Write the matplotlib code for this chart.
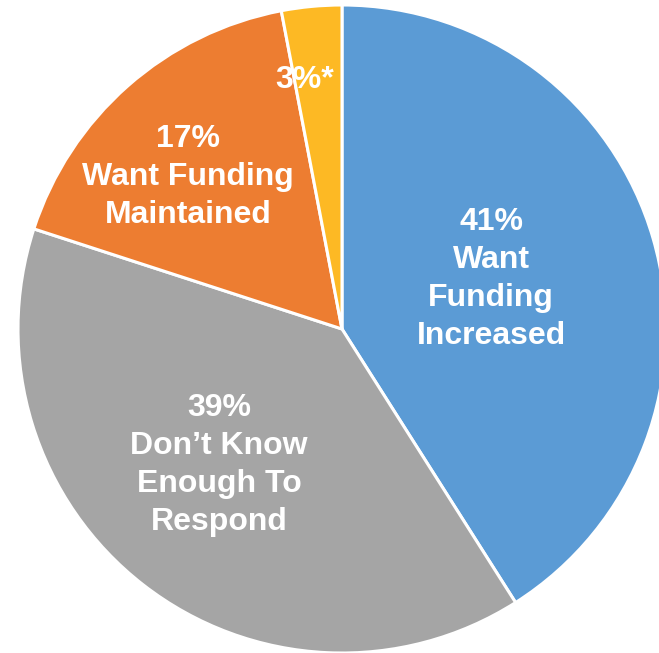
import matplotlib
matplotlib.use("Agg")
import matplotlib.pyplot as plt

labels = ["41%\nWant\nFunding\nIncreased",
          "39%\nDon\u2019t Know\nEnough To\nRespond",
          "17%\nWant Funding\nMaintained",
          "3%*"]
values = [41, 39, 17, 3]
colors = ["#5B9BD5", "#A5A5A5", "#ED7D31", "#FDB924"]

W, H = 659, 653
CX, CY, R = 342, 329, 324

fig = plt.figure(figsize=(W / 100, H / 100), dpi=100)
ax = fig.add_axes([0, 0, 1, 1])

ax.pie(values, colors=colors, startangle=90, counterclock=False, radius=1.0,
       wedgeprops=dict(edgecolor="white", linewidth=2.2))

ax.set_aspect("auto")
ax.set_xlim(-CX / R, (W - CX) / R)
ax.set_ylim(-(H - CY) / R, CY / R)
ax.axis("off")

# label centers in pixels (from reference)
label_px = [(491, 279), (219, 465), (188, 177), (305, 80)]
for txt, (px, py) in zip(labels, label_px):
    ax.text((px - CX) / R, (CY - py) / R, txt, ha="center", va="center",
            color="white", fontsize=23, fontweight="bold",
            family=["Liberation Sans", "DejaVu Sans"], linespacing=1.36)

fig.savefig("out.png", dpi=100)
